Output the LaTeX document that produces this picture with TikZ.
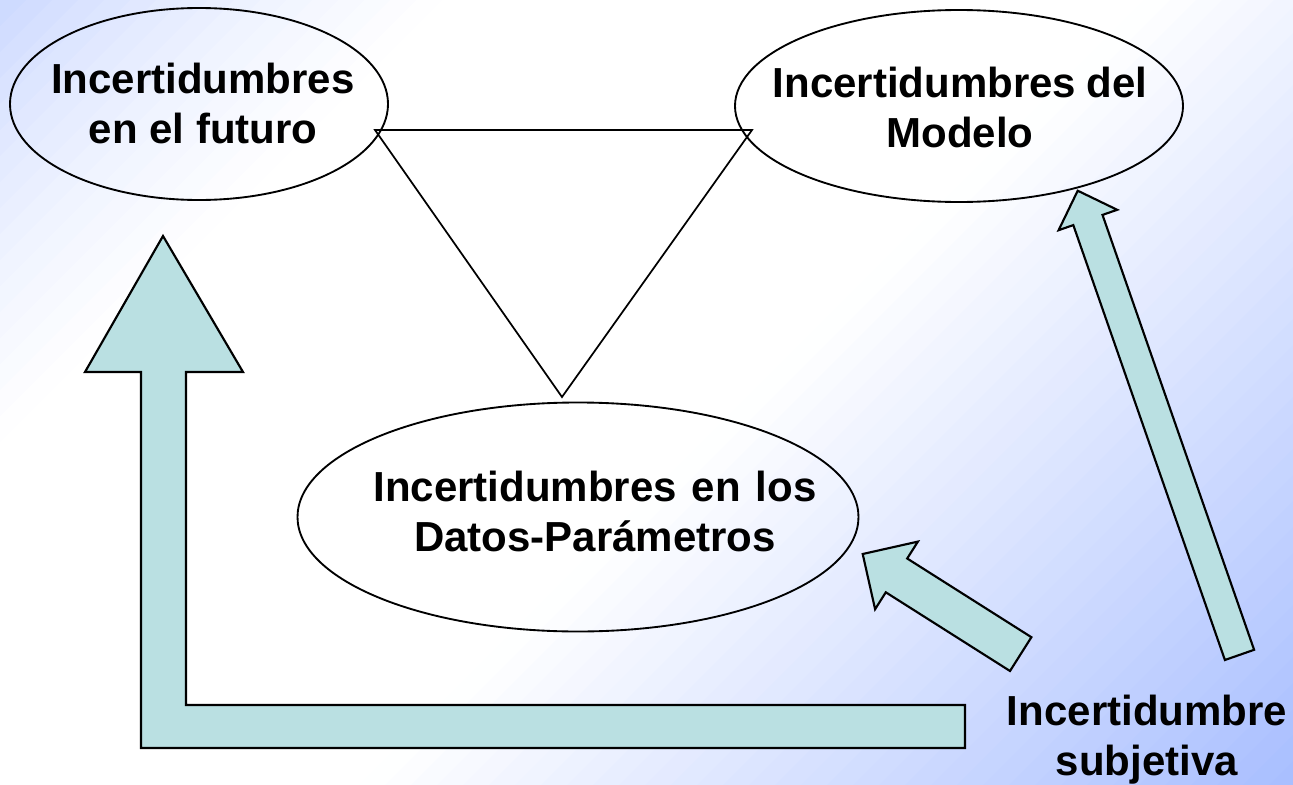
\documentclass[tikz,border=0pt]{standalone}
\usepackage{fontspec}
\setmainfont{Liberation Sans}
\usetikzlibrary{shapes.geometric}
\definecolor{bgA}{HTML}{CCD9FF}
\definecolor{bgB}{HTML}{A8BEFF}
\definecolor{arrowfill}{HTML}{BAE0E2}
\begin{document}
\begin{tikzpicture}[x=0.75pt,y=-0.75pt,
  ell/.style={draw=black, line width=1.4pt, ellipse, inner sep=0pt},
  lbl/.style={font=\fontsize{31.5}{37.5}\selectfont\bfseries, align=center, inner sep=0pt},
  blockarrow/.style={fill=arrowfill, draw=black, line width=1.6pt, line join=miter},
  tri/.style={draw=black, line width=1.3pt, line join=miter}]
\useasboundingbox (0,0) rectangle (1293,785);
% background gradient (bands along x+y)
\begin{scope}
\clip (0,0) rectangle (1293,785);
\foreach \i in {0,...,80} {
  \pgfmathsetmacro{\da}{\i*26}
  \pgfmathsetmacro{\db}{\i*26+27}
  \pgfmathsetmacro{\dm}{\i*26+13}
  \pgfmathsetmacro{\ta}{max(450-\dm,0)/450}
  \pgfmathsetmacro{\pa}{100*\ta*(0.6+0.4*\ta)}
  \pgfmathsetmacro{\pb}{min(max(\dm-1150,0)/9.28,100)}
  \pgfmathtruncatemacro{\lo}{\dm<800 ? 1 : 0}
  \ifnum\lo=1 \def\cc{bgA!\pa!white}\else\def\cc{bgB!\pb!white}\fi
  \fill[fill=\cc] (\da,0) -- (\db,0) -- ({\db-785},785) -- ({\da-785},785) -- cycle;
}
\end{scope}
% triangle
\coordinate (t1) at (375,130);
\coordinate (t2) at (752,130);
\coordinate (t3) at (562,397);
\draw[tri] (t1) -- (t2) -- (t3) -- cycle;
% ellipses
\node[ell, minimum width=378*0.75pt, minimum height=192*0.75pt] (fut) at (199,104) {};
\node[ell, minimum width=448*0.75pt, minimum height=192*0.75pt] (mod) at (959,106) {};
\node[ell, minimum width=561*0.75pt, minimum height=229*0.75pt] (dat) at (578,517) {};
\node[lbl] (futT) at (203,103) {Incertidumbres\\en el futuro};
\node[lbl] (modT) at (960,107) {Incertidumbres\hspace{0.25em}del\\Modelo};
\node[lbl] (datT) at (595,511) {Incertidumbres\hspace{0.08em} en\hspace{0.08em} los\\Datos-Parámetros};
\node[lbl] (subT) at (1147,740) {Incertidumbre\\subjetiva};
% block arrows
\draw[blockarrow] (163,236) -- (243,372) -- (186,372) -- (186,705) -- (965,705) -- (965,748) -- (141,748) -- (141,372) -- (85,372) -- cycle;
\draw[blockarrow] (862.7,554) -- (917.9,541.6) -- (907.2,558.5) -- (1031.4,637.2) -- (1010,671) -- (885.8,592.3) -- (875.1,609.2) -- cycle;
\draw[blockarrow] (1077.7,190.7) -- (1117.2,209.8) -- (1102.5,214.9) -- (1254.1,649.8) -- (1224.9,660) -- (1073.3,225.1) -- (1058.6,230.2) -- cycle;
\end{tikzpicture}
\end{document}
